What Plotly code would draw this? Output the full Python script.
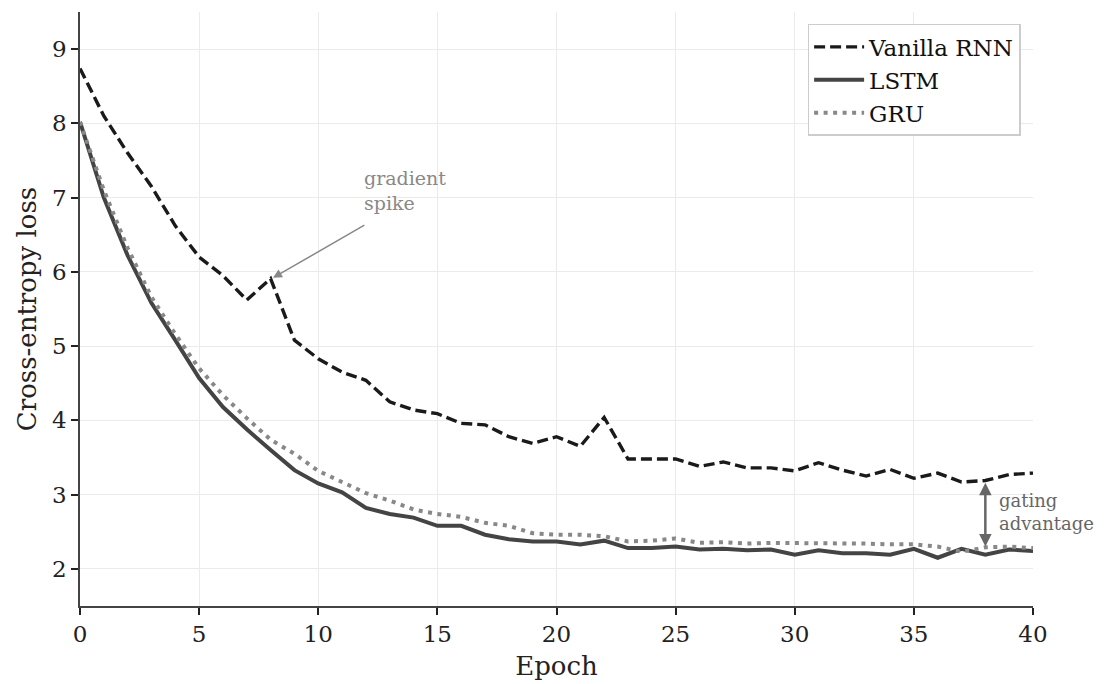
import plotly.graph_objects as go

epochs = list(range(41))

rnn_loss = [8.74, 8.10, 7.60, 7.15, 6.62, 6.20, 5.95, 5.62, 5.91, 5.08,
            4.83, 4.65, 4.54, 4.25, 4.14, 4.09, 3.96, 3.94, 3.78, 3.69,
            3.78, 3.65, 4.04, 3.48, 3.48, 3.48, 3.38, 3.44, 3.36, 3.36,
            3.32, 3.43, 3.33, 3.25, 3.34, 3.22, 3.29, 3.17, 3.19, 3.27,
            3.29]

lstm_loss = [8.02, 7.00, 6.22, 5.58, 5.08, 4.57, 4.18, 3.88, 3.60, 3.33,
             3.15, 3.03, 2.82, 2.74, 2.69, 2.58, 2.58, 2.46, 2.40, 2.37,
             2.37, 2.33, 2.38, 2.28, 2.28, 2.30, 2.26, 2.27, 2.25, 2.26,
             2.19, 2.25, 2.21, 2.21, 2.19, 2.27, 2.15, 2.27, 2.19, 2.26,
             2.24]

gru_loss = [8.02, 7.10, 6.32, 5.66, 5.16, 4.70, 4.34, 4.03, 3.74, 3.55,
            3.32, 3.17, 3.02, 2.92, 2.80, 2.74, 2.70, 2.62, 2.58, 2.48,
            2.46, 2.46, 2.44, 2.37, 2.38, 2.41, 2.35, 2.36, 2.34, 2.35,
            2.35, 2.35, 2.34, 2.34, 2.33, 2.33, 2.30, 2.23, 2.29, 2.30,
            2.28]

x_ticks = [0, 5, 10, 15, 20, 25, 30, 35, 40]
y_ticks = [2, 3, 4, 5, 6, 7, 8, 9]

FONT = "DejaVu Serif"

fig = go.Figure()
fig.add_trace(go.Scatter(x=epochs, y=rnn_loss, mode="lines", name="Vanilla RNN",
                         line=dict(color="#1a1a1a", width=3.4, dash="11px,5px")))
fig.add_trace(go.Scatter(x=epochs, y=lstm_loss, mode="lines", name="LSTM",
                         line=dict(color="#444444", width=4)))
fig.add_trace(go.Scatter(x=epochs, y=gru_loss, mode="lines", name="GRU",
                         line=dict(color="#888888", width=4, dash="4px,5.5px")))

# gradient spike annotation
fig.add_annotation(x=8.1, y=5.92, ax=12.0, ay=6.64, xref="x", yref="y",
                   axref="x", ayref="y", text="", showarrow=True,
                   arrowhead=2, arrowsize=1.2, arrowwidth=1.5, arrowcolor="#888888")
fig.add_annotation(x=11.84, y=7.10, xref="x", yref="y", text="gradient<br>spike",
                   showarrow=False, xanchor="left", yanchor="middle", align="left",
                   font=dict(family=FONT, size=19, color="#888888"))

# gating advantage annotation
fig.add_annotation(x=38, y=2.30, ax=38, ay=3.18, xref="x", yref="y",
                   axref="x", ayref="y", text="", showarrow=True,
                   arrowhead=2, startarrowhead=2, arrowside="end+start",
                   arrowsize=1, startarrowsize=1, arrowwidth=2.5, arrowcolor="#666666")
fig.add_annotation(x=38.5, y=2.76, xref="x", yref="y", text="gating<br>advantage",
                   showarrow=False, xanchor="left", yanchor="middle", align="left",
                   font=dict(family=FONT, size=18, color="#666666"))

axis_common = dict(showline=True, linecolor="#444444", linewidth=1.5,
                   ticks="outside", ticklen=7, tickwidth=1.5, tickcolor="#222222",
                   showgrid=True, gridcolor="#ebebeb", gridwidth=1, zeroline=False,
                   tickfont=dict(family=FONT, size=23, color="#222222"))

fig.update_xaxes(range=[0, 40], tickvals=x_ticks,
                 title=dict(text="Epoch", font=dict(family=FONT, size=26, color="#222222"), standoff=10),
                 **axis_common)
fig.update_yaxes(range=[1.5, 9.5], tickvals=y_ticks,
                 title=dict(text="Cross-entropy loss", font=dict(family=FONT, size=26, color="#222222"), standoff=8),
                 **axis_common)

# the page body adds an 8px offset; margins compensate so the plot area lands at 80..1033 x 12..606
fig.update_layout(
    width=1099, height=676,
    margin=dict(l=72, r=74, t=4, b=78),
    plot_bgcolor="white", paper_bgcolor="white",
    font=dict(family=FONT, color="#222222"),
    showlegend=True,
    legend=dict(x=0.987, y=0.98, xanchor="right", yanchor="top",
                bgcolor="white", bordercolor="#cccccc", borderwidth=1.5,
                font=dict(family=FONT, size=23, color="#111111"),
                itemwidth=50, tracegroupgap=2),
)

fig.write_html("out.html")
